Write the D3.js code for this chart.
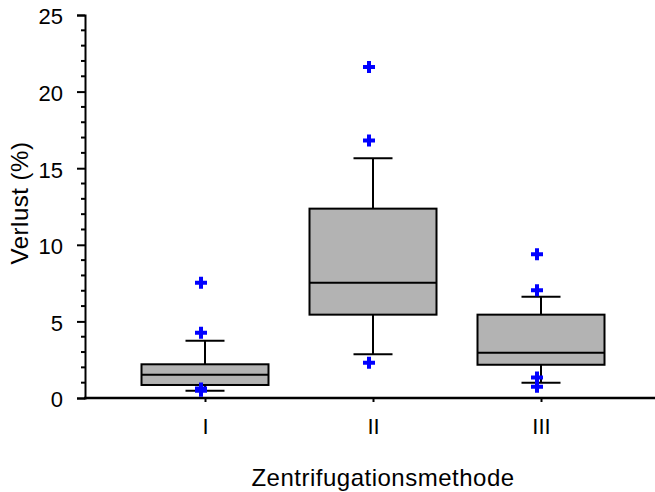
<!DOCTYPE html>
<html>
<head>
<meta charset="utf-8">
<script src="https://cdn.jsdelivr.net/npm/d3@7"></script>
<style>
  html, body { margin: 0; padding: 0; background: #fff; }
  svg { display: block; font-family: "Liberation Sans", Arial, Helvetica, sans-serif; }
</style>
</head>
<body>
<svg id="chart" width="655" height="492"></svg>
<script>
// ---- data ----
const categories = ["I", "II", "III"];
const whiskerLow  = [0.48, 2.85, 1.0];
const q1          = [0.85, 5.44, 2.17];
const median      = [1.52, 7.53, 2.96];
const q3          = [2.2, 12.36, 5.44];
const whiskerHigh = [3.74, 15.65, 6.61];
const outliersI   = [7.53, 4.26, 0.62, 0.48];
const outliersII  = [21.6, 16.8, 2.3];
const outliersIII = [9.38, 7.03, 1.33, 0.74];
const yTicks = [0, 5, 10, 15, 20, 25];
const yLabel = "Verlust (%)";
const xLabel = "Zentrifugationsmethode";

const outliers = [outliersI, outliersII, outliersIII];

// ---- layout ----
const svg = d3.select("#chart");
const axisLeftX = 85, axisRightX = 655;
const y = d3.scaleLinear().domain([0, 25]).range([398, 15]);
const x = d3.scalePoint().domain(categories).range([205, 541]);
const boxW = 127, capW = 39;
const FONT = "'Liberation Sans', Arial, sans-serif";

// y axis
const yAxis = d3.axisLeft(y).tickValues(yTicks).tickSize(8).tickPadding(14);
const gy = svg.append("g").attr("transform", `translate(${axisLeftX},0)`).call(yAxis);
gy.select(".domain").attr("stroke", "#000").attr("stroke-width", 2);
gy.selectAll(".tick line").attr("stroke", "#000").attr("stroke-width", 2);
gy.selectAll(".tick text").attr("font-size", 22).attr("fill", "#000")
  .attr("font-family", FONT).attr("dy", "0.4em");
// minor ticks
const minor = d3.range(0, 26).filter(v => v % 5 !== 0);
svg.append("g").selectAll("line").data(minor).join("line")
  .attr("x1", axisLeftX - 4).attr("x2", axisLeftX)
  .attr("y1", d => y(d)).attr("y2", d => y(d))
  .attr("stroke", "#000").attr("stroke-width", 2);

// x axis
const xAxis = d3.axisBottom(x).tickSize(4).tickPadding(16);
const gx = svg.append("g").attr("transform", `translate(0,${y(0)})`).call(xAxis);
gx.select(".domain").remove();
gx.selectAll(".tick line").attr("stroke", "#000").attr("stroke-width", 2);
gx.selectAll(".tick text").attr("font-size", 22).attr("fill", "#000")
  .attr("font-family", FONT);
svg.append("line").attr("x1", axisLeftX - 1).attr("x2", axisRightX)
  .attr("y1", y(0)).attr("y2", y(0)).attr("stroke", "#000").attr("stroke-width", 2.5);

// boxes
const g = svg.append("g");
categories.forEach((c, i) => {
  const cx = x(c);
  g.append("line").attr("x1", cx).attr("x2", cx).attr("y1", y(q3[i])).attr("y2", y(whiskerHigh[i]))
    .attr("stroke", "#000").attr("stroke-width", 2);
  g.append("line").attr("x1", cx).attr("x2", cx).attr("y1", y(q1[i])).attr("y2", y(whiskerLow[i]))
    .attr("stroke", "#000").attr("stroke-width", 2);
  g.append("line").attr("x1", cx - capW / 2).attr("x2", cx + capW / 2)
    .attr("y1", y(whiskerHigh[i])).attr("y2", y(whiskerHigh[i])).attr("stroke", "#000").attr("stroke-width", 2);
  g.append("line").attr("x1", cx - capW / 2).attr("x2", cx + capW / 2)
    .attr("y1", y(whiskerLow[i])).attr("y2", y(whiskerLow[i])).attr("stroke", "#000").attr("stroke-width", 2);
  g.append("rect").attr("x", cx - boxW / 2).attr("width", boxW)
    .attr("y", y(q3[i])).attr("height", y(q1[i]) - y(q3[i]))
    .attr("fill", "#b3b3b3").attr("stroke", "#000").attr("stroke-width", 2);
  g.append("line").attr("x1", cx - boxW / 2).attr("x2", cx + boxW / 2)
    .attr("y1", y(median[i])).attr("y2", y(median[i])).attr("stroke", "#000").attr("stroke-width", 2);
  g.append("g").selectAll("path").data(outliers[i]).join("path")
    .attr("d", d3.symbol(d3.symbolCross, 80))
    .attr("transform", d => `translate(${cx - 4},${y(d)})`)
    .attr("fill", "#0000ff");
});

// axis titles
svg.append("text").attr("x", 383).attr("y", 486).attr("text-anchor", "middle")
  .attr("font-size", 24).attr("letter-spacing", 0.5).attr("fill", "#000")
  .attr("font-family", FONT).text(xLabel);
svg.append("text").attr("transform", "translate(28,203) rotate(-90)").attr("text-anchor", "middle")
  .attr("font-size", 24).attr("letter-spacing", 0.5).attr("fill", "#000")
  .attr("font-family", FONT).text(yLabel);
</script>
</body>
</html>
